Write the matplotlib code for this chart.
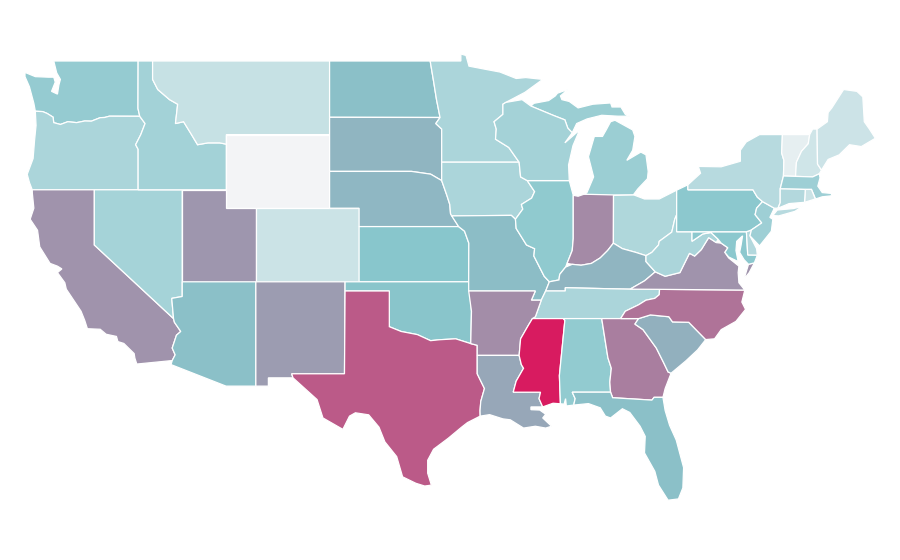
import matplotlib
matplotlib.use("Agg")
import matplotlib.pyplot as plt
from matplotlib.colors import LinearSegmentedColormap

# Estimated index per state (read from fill colours)
values = {
    "WA": 35.5, "OR": 27, "CA": 58, "NV": 29, "ID": 30, "MT": 17, "WY": 0, "UT": 57, "CO": 15,
    "AZ": 42, "NM": 55, "ND": 42, "SD": 46, "NE": 45, "KS": 40, "OK": 40.5, "TX": 78, "MN": 27,
    "IA": 27, "MO": 43, "AR": 60, "LA": 51, "WI": 29.5, "IL": 37, "MI": 33, "IN": 61, "OH": 25.5,
    "KY": 46, "TN": 27, "MS": 100, "AL": 36, "GA": 65, "FL": 42, "SC": 48, "NC": 69, "VA": 58,
    "WV": 27, "MD": 38.5, "DE": 24, "PA": 38.5, "NJ": 32, "NY": 22.5, "CT": 24, "RI": 15,
    "MA": 32, "VT": 5, "NH": 13.5, "ME": 14.5,
}

# State outlines in lon/lat; a state may have several parts
states = {
    "WA": [[(-124.7,48.38),(-124.0,48.15),(-123.1,48.12),(-122.75,48.12),(-122.65,47.85),(-122.9,47.35),(-122.5,47.2),(-122.4,47.7),(-122.3,48.0),(-122.55,48.35),(-122.75,49.0),(-117.03,49),(-117.04,46.42),(-116.92,45.995),(-118.98,46.0),(-119.3,45.93),(-119.6,45.92),(-120.2,45.73),(-120.65,45.74),(-121.2,45.65),(-121.8,45.7),(-122.3,45.55),(-122.75,45.65),(-122.8,45.95),(-123.2,46.15),(-123.5,46.25),(-124.0,46.27),(-124.1,46.7),(-124.2,47.0),(-124.4,47.6),(-124.7,48.15)]],
    "OR": [[(-124.0,46.27),(-123.5,46.25),(-123.2,46.15),(-122.8,45.95),(-122.75,45.65),(-122.3,45.55),(-121.8,45.7),(-121.2,45.65),(-120.65,45.74),(-120.2,45.73),(-119.6,45.92),(-119.3,45.93),(-118.98,46.0),(-116.92,45.995),(-116.56,45.6),(-116.85,45.0),(-117.2,44.45),(-117.03,44.2),(-117.03,42),(-124.21,42),(-124.4,42.4),(-124.55,42.84),(-124.15,43.7),(-124.05,44.7),(-123.95,45.5)]],
    "CA": [[(-124.21,42),(-120,42),(-120,39),(-114.63,35.0),(-114.57,34.8),(-114.14,34.3),(-114.43,34.1),(-114.72,33.4),(-114.52,33.03),(-114.72,32.72),(-117.12,32.53),(-117.25,32.85),(-117.3,33.1),(-118.0,33.65),(-118.4,33.75),(-118.5,34.03),(-119.2,34.15),(-119.6,34.42),(-120.47,34.45),(-120.65,34.9),(-120.9,35.4),(-121.9,36.6),(-122.0,36.95),(-122.5,37.5),(-122.2,37.7),(-122.5,37.85),(-123.0,38.0),(-123.7,38.9),(-123.85,39.8),(-124.35,40.4),(-124.1,41.0),(-124.2,41.8)]],
    "NV": [[(-120,42),(-114.04,42),(-114.04,36.2),(-114.75,36.1),(-114.63,35.0),(-120,39)]],
    "ID": [[(-117.03,49),(-116.05,49),(-116.05,48.0),(-115.7,47.45),(-114.9,46.9),(-114.35,46.65),(-114.5,45.6),(-113.95,45.7),(-113.45,45.05),(-113.0,44.45),(-112.3,44.55),(-111.5,44.55),(-111.05,44.48),(-111.05,42),(-117.03,42),(-117.03,44.2),(-117.2,44.45),(-116.85,45.0),(-116.56,45.6),(-116.92,45.995),(-117.04,46.42)]],
    "MT": [[(-116.05,49),(-104.05,49),(-104.05,45),(-111.05,45),(-111.05,44.48),(-111.5,44.55),(-112.3,44.55),(-113.0,44.45),(-113.45,45.05),(-113.95,45.7),(-114.5,45.6),(-114.35,46.65),(-114.9,46.9),(-115.7,47.45),(-116.05,48.0)]],
    "WY": [[(-111.05,45),(-104.05,45),(-104.05,41),(-111.05,41)]],
    "UT": [[(-114.04,42),(-111.05,42),(-111.05,41),(-109.05,41),(-109.05,37),(-114.04,37)]],
    "CO": [[(-109.05,41),(-102.05,41),(-102.05,37),(-109.05,37)]],
    "AZ": [[(-114.04,37),(-109.05,37),(-109.05,31.33),(-111.07,31.33),(-114.8,32.5),(-114.72,32.72),(-114.52,33.03),(-114.72,33.4),(-114.43,34.1),(-114.14,34.3),(-114.57,34.8),(-114.63,35.0),(-114.75,36.1),(-114.04,36.2)]],
    "NM": [[(-109.05,37),(-103,37),(-103.04,32),(-106.62,32),(-106.53,31.78),(-108.2,31.78),(-108.2,31.33),(-109.05,31.33)]],
    "ND": [[(-104.05,49),(-97.23,49),(-97.0,47.9),(-96.8,46.9),(-96.56,45.93),(-104.05,45.94)]],
    "SD": [[(-104.05,45.94),(-96.56,45.93),(-96.85,45.6),(-96.45,45.3),(-96.45,43.5),(-96.45,42.5),(-97.2,42.85),(-98.5,43.0),(-104.05,43.0)]],
    "NE": [[(-104.05,43),(-98.5,43),(-97.2,42.85),(-96.45,42.5),(-96.1,41.7),(-95.9,41.2),(-95.85,40.7),(-95.3,40.0),(-102.05,40),(-102.05,41),(-104.05,41)]],
    "KS": [[(-102.05,40),(-95.3,40),(-94.9,39.75),(-94.61,39.1),(-94.62,37),(-102.05,37)]],
    "OK": [[(-103,37),(-94.62,37),(-94.43,35.4),(-94.48,33.64),(-95.5,33.9),(-96.6,33.85),(-97.2,33.8),(-98.1,34.13),(-99.2,34.3),(-100,34.56),(-100,36.5),(-103,36.5)]],
    "TX": [[(-103,36.5),(-100,36.5),(-100,34.56),(-99.2,34.3),(-98.1,34.13),(-97.2,33.8),(-96.6,33.85),(-95.5,33.9),(-94.48,33.64),(-94.04,33.55),(-94.04,33.0),(-94.04,32),(-93.55,31.2),(-93.8,30.5),(-93.85,30.0),(-93.84,29.7),(-94.7,29.35),(-95.1,29.1),(-96.0,28.5),(-97.0,27.9),(-97.4,27.3),(-97.4,26.6),(-97.15,25.95),(-97.6,25.9),(-98.2,26.05),(-99.1,26.4),(-99.5,27.5),(-100.3,28.3),(-100.7,29.1),(-101.4,29.77),(-102.3,29.88),(-102.7,29.7),(-103.15,28.98),(-104.5,29.6),(-104.9,30.6),(-106.53,31.78),(-106.62,32),(-103.04,32)]],
    "MN": [[(-97.23,49),(-95.15,49),(-95.15,49.38),(-94.8,49.3),(-94.6,48.72),(-93.5,48.55),(-92.5,48.4),(-91.4,48.05),(-90.75,48.1),(-89.6,48.0),(-90.8,47.3),(-92.1,46.75),(-92.3,46.65),(-92.3,46.1),(-92.9,45.7),(-92.75,45.3),(-92.8,44.75),(-91.9,44.3),(-91.2,43.5),(-96.45,43.5),(-96.45,45.3),(-96.85,45.6),(-96.56,45.93),(-96.8,46.9),(-97.0,47.9)]],
    "IA": [[(-96.45,43.5),(-91.2,43.5),(-91.1,42.7),(-90.65,42.5),(-90.15,41.9),(-90.35,41.55),(-91.05,41.2),(-90.95,40.95),(-91.45,40.4),(-91.73,40.61),(-95.77,40.58),(-95.85,40.7),(-95.9,41.2),(-96.1,41.7),(-96.45,42.5)]],
    "MO": [[(-95.77,40.58),(-91.73,40.61),(-91.45,40.4),(-91.4,39.9),(-90.7,39.0),(-90.15,38.8),(-90.2,38.4),(-89.5,37.3),(-89.15,37.0),(-89.4,36.5),(-89.7,36.0),(-90.37,36.0),(-90.1,36.5),(-94.62,36.5),(-94.62,37),(-94.61,39.1),(-94.9,39.75),(-95.3,40)]],
    "IL": [[(-90.65,42.5),(-87.8,42.5),(-87.53,41.7),(-87.53,39.35),(-87.6,38.7),(-87.95,38.0),(-88.05,37.8),(-88.45,37.4),(-88.5,37.1),(-89.15,37.0),(-89.5,37.3),(-90.2,38.4),(-90.15,38.8),(-90.7,39.0),(-91.4,39.9),(-91.45,40.4),(-90.95,40.95),(-91.05,41.2),(-90.35,41.55),(-90.15,41.9)]],
    "IN": [[(-87.53,41.7),(-87.2,41.65),(-86.8,41.76),(-84.8,41.76),(-84.81,39.1),(-85.2,38.7),(-85.7,38.3),(-86.3,38.0),(-87.0,37.9),(-87.6,37.95),(-87.95,38.0),(-87.6,38.7),(-87.53,39.35)]],
    "OH": [[(-84.8,41.7),(-83.45,41.73),(-82.7,41.5),(-81.7,41.5),(-80.52,41.98),(-80.52,40.64),(-80.65,40.4),(-80.85,39.7),(-81.7,39.2),(-81.75,39.0),(-82.2,38.6),(-82.6,38.42),(-83.3,38.6),(-84.2,38.8),(-84.81,39.1)]],
    "MI": [[(-86.8,41.76),(-84.8,41.72),(-83.45,41.73),(-83.15,42.05),(-82.5,42.6),(-82.45,43.0),(-82.6,43.9),(-82.95,44.05),(-83.9,43.6),(-83.5,44.15),(-83.35,44.9),(-83.5,45.25),(-84.7,45.78),(-85.0,45.7),(-85.3,45.25),(-85.55,44.9),(-86.1,44.9),(-86.5,43.8),(-86.15,42.7),(-86.6,41.85)],
           [(-90.4,46.55),(-90.2,46.7),(-89.2,46.85),(-88.75,47.1),(-88.6,47.25),(-87.9,47.45),(-88.4,47.1),(-88.3,46.9),(-87.8,46.8),(-87.2,46.45),(-86.2,46.65),(-85.0,46.72),(-84.9,46.5),(-84.3,46.5),(-84.0,46.1),(-83.7,46.0),(-84.5,46.0),(-85.6,46.05),(-86.6,45.85),(-87.3,45.6),(-87.6,45.1),(-87.9,45.35),(-88.1,45.8),(-88.9,46.05)]],
    "WI": [[(-92.1,46.75),(-91.0,46.9),(-90.4,46.55),(-88.9,46.05),(-88.1,45.8),(-87.9,45.35),(-87.6,45.1),(-88.1,44.55),(-87.1,45.25),(-87.55,44.4),(-87.85,43.35),(-87.8,42.5),(-90.65,42.5),(-91.1,42.7),(-91.2,43.5),(-91.9,44.3),(-92.8,44.75),(-92.75,45.3),(-92.9,45.7),(-92.3,46.1),(-92.3,46.65)]],
    "KY": [[(-89.4,36.5),(-89.15,37.0),(-88.5,37.1),(-88.45,37.4),(-88.05,37.8),(-87.6,37.95),(-87.0,37.9),(-86.3,38.0),(-85.7,38.3),(-85.2,38.7),(-84.81,39.1),(-84.2,38.8),(-83.3,38.6),(-82.6,38.42),(-82.6,38.1),(-81.97,37.54),(-82.7,37.05),(-83.68,36.6),(-85,36.62),(-88.07,36.68),(-88.07,36.5)]],
    "TN": [[(-89.4,36.5),(-88.07,36.5),(-88.07,36.68),(-85,36.62),(-83.68,36.6),(-81.68,36.59),(-81.7,36.3),(-82.0,36.1),(-82.6,36.0),(-83.1,35.75),(-84.0,35.4),(-84.32,35.0),(-90.3,35.0),(-90.1,35.1),(-89.7,36.0)]],
    "AR": [[(-94.62,36.5),(-90.1,36.5),(-90.37,36.0),(-89.7,36.0),(-90.1,35.1),(-90.3,35.0),(-90.6,34.6),(-91.1,33.9),(-91.2,33.0),(-94.04,33.0),(-94.04,33.55),(-94.48,33.64),(-94.43,35.4)]],
    "LA": [[(-94.04,33),(-91.2,33),(-91.05,32.5),(-90.9,32.3),(-91.4,31.6),(-91.6,31.0),(-89.75,31.0),(-89.85,30.65),(-89.6,30.2),(-90.4,30.2),(-90.4,30.05),(-89.8,30.03),(-89.4,29.8),(-89.6,29.6),(-89.0,29.15),(-89.4,29.05),(-90.1,29.15),(-90.9,29.05),(-91.8,29.5),(-92.3,29.55),(-93.2,29.78),(-93.84,29.7),(-93.85,30.0),(-93.8,30.5),(-93.55,31.2),(-94.04,32)]],
    "MS": [[(-90.3,35.0),(-88.2,35.0),(-88.1,34.9),(-88.47,31.9),(-88.4,30.37),(-88.9,30.4),(-89.6,30.2),(-89.85,30.65),(-89.75,31),(-91.6,31),(-91.4,31.6),(-90.9,32.3),(-91.05,32.5),(-91.2,33),(-91.1,33.9),(-90.6,34.6)]],
    "AL": [[(-88.2,35),(-85.6,35),(-85.18,32.87),(-84.95,32.3),(-85.05,31.55),(-85.0,31.0),(-87.6,31.0),(-87.4,30.65),(-87.5,30.3),(-88.0,30.25),(-88.05,30.65),(-88.15,30.35),(-88.4,30.37),(-88.47,31.9),(-88.1,34.9)]],
    "GA": [[(-85.6,35),(-83.1,35),(-83.35,34.7),(-82.8,34.4),(-81.9,33.4),(-81.4,32.6),(-81.1,32.1),(-80.9,32.03),(-81.3,31.2),(-81.45,30.72),(-82.05,30.72),(-82.2,30.57),(-84.86,30.7),(-85.0,31.0),(-85.05,31.55),(-84.95,32.3),(-85.18,32.87)]],
    "FL": [[(-87.6,31.0),(-85.0,31.0),(-84.86,30.7),(-82.2,30.57),(-82.05,30.72),(-81.45,30.72),(-81.3,30.0),(-81.0,29.2),(-80.55,28.4),(-80.05,26.9),(-80.1,25.8),(-80.4,25.2),(-81.1,25.13),(-81.75,25.95),(-82.0,26.7),(-82.7,27.7),(-82.65,28.6),(-83.0,29.15),(-83.7,29.9),(-84.2,30.1),(-85.0,29.6),(-85.35,29.7),(-85.7,30.15),(-86.5,30.38),(-87.5,30.3),(-87.4,30.65)]],
    "SC": [[(-83.1,35),(-82.3,35.2),(-81.05,35.1),(-80.8,34.82),(-79.7,34.8),(-78.55,33.86),(-79.1,33.3),(-79.9,32.7),(-80.9,32.03),(-81.1,32.1),(-81.4,32.6),(-81.9,33.4),(-82.8,34.4),(-83.35,34.7)]],
    "NC": [[(-84.32,35),(-84.0,35.4),(-83.1,35.75),(-82.6,36),(-82,36.1),(-81.7,36.3),(-81.68,36.59),(-75.9,36.55),(-76.1,35.9),(-75.85,35.5),(-76.5,34.85),(-77.5,34.4),(-77.95,33.9),(-78.55,33.86),(-79.7,34.8),(-80.8,34.82),(-81.05,35.1),(-82.3,35.2),(-83.1,35)]],
    "VA": [[(-83.68,36.6),(-81.68,36.59),(-75.9,36.55),(-76.3,36.95),(-76.35,37.5),(-76.3,37.85),(-77.0,38.3),(-77.25,38.6),(-77.05,38.85),(-77.5,39.1),(-77.83,39.13),(-78.35,39.4),(-78.85,38.75),(-79.3,38.4),(-79.65,38.55),(-80.3,37.5),(-81.3,37.3),(-81.97,37.54),(-82.7,37.05)],
           [(-75.95,37.15),(-75.65,37.95),(-75.25,38.03),(-75.6,37.5)]],
    "WV": [[(-82.6,38.42),(-82.6,38.1),(-81.97,37.54),(-81.3,37.3),(-80.3,37.5),(-79.65,38.55),(-79.3,38.4),(-78.85,38.75),(-78.35,39.4),(-77.83,39.13),(-77.72,39.32),(-78.2,39.68),(-78.75,39.6),(-79.48,39.2),(-79.48,39.72),(-80.52,39.72),(-80.52,40.64),(-80.65,40.4),(-80.85,39.7),(-81.7,39.2),(-81.75,39.0),(-82.2,38.6)]],
    "MD": [[(-79.48,39.72),(-75.79,39.72),(-75.7,38.46),(-75.05,38.45),(-75.25,38.03),(-75.65,37.95),(-75.95,38.2),(-76.25,38.6),(-76.15,39.0),(-76.05,39.5),(-76.45,39.2),(-76.5,38.7),(-76.35,38.1),(-77.0,38.35),(-77.25,38.6),(-77.05,38.85),(-77.5,39.1),(-77.72,39.32),(-78.2,39.68),(-78.75,39.6),(-79.48,39.2)]],
    "DE": [[(-75.79,39.72),(-75.45,39.82),(-75.55,39.5),(-75.1,38.8),(-75.05,38.45),(-75.7,38.46)]],
    "PA": [[(-80.52,41.98),(-79.76,42.27),(-79.76,42.0),(-75.35,42.0),(-75.05,41.6),(-74.7,41.36),(-75.1,41.0),(-75.2,40.65),(-74.75,40.2),(-75.45,39.82),(-75.79,39.72),(-80.52,39.72)]],
    "NJ": [[(-74.7,41.36),(-73.9,41.0),(-74.2,40.5),(-74.0,40.4),(-74.1,39.75),(-74.9,38.95),(-75.55,39.5),(-75.45,39.82),(-74.75,40.2),(-75.2,40.65),(-75.1,41.0)]],
    "NY": [[(-79.76,42.27),(-78.9,42.9),(-79.05,43.27),(-77.5,43.25),(-76.2,43.55),(-76.2,44.15),(-75.8,44.6),(-74.9,45.0),(-73.35,45.0),(-73.4,44.0),(-73.25,43.6),(-73.28,42.75),(-73.5,42.05),(-73.5,41.3),(-73.65,41.0),(-73.9,41.0),(-74.7,41.36),(-75.05,41.6),(-75.35,42),(-79.76,42)],
           [(-74.0,40.6),(-73.7,40.9),(-72.6,40.98),(-72.0,41.1),(-72.5,40.83),(-73.6,40.58)]],
    "VT": [[(-73.35,45),(-71.5,45.0),(-71.6,44.5),(-72.05,44.1),(-72.4,43.5),(-72.46,42.73),(-73.28,42.75),(-73.25,43.6),(-73.4,44.0)]],
    "NH": [[(-71.5,45.0),(-71.3,45.3),(-71.0,45.3),(-70.97,43.4),(-70.7,43.07),(-70.85,42.87),(-71.3,42.7),(-72.46,42.73),(-72.4,43.5),(-72.05,44.1),(-71.6,44.5)]],
    "ME": [[(-71.0,45.3),(-70.3,45.7),(-70.25,46.2),(-70.0,46.45),(-69.2,47.45),(-68.3,47.35),(-67.9,47.05),(-67.8,45.7),(-67.45,45.3),(-67.05,44.8),(-68.0,44.35),(-68.8,44.45),(-69.5,43.9),(-70.25,43.65),(-70.7,43.07),(-70.97,43.4)]],
    "MA": [[(-73.5,42.05),(-73.28,42.75),(-71.3,42.7),(-70.85,42.87),(-70.8,42.65),(-70.95,42.2),(-70.65,41.85),(-70.0,41.8),(-70.05,41.67),(-70.65,41.62),(-71.1,41.5),(-71.38,42.02),(-71.8,42.02)]],
    "RI": [[(-71.8,42.02),(-71.38,42.02),(-71.12,41.5),(-71.85,41.32)]],
    "CT": [[(-73.5,42.05),(-71.8,42.02),(-71.85,41.32),(-72.9,41.25),(-73.65,41.0),(-73.5,41.3)]],
}

cmap = LinearSegmentedColormap.from_list(
    "teal_pink", [(0.0, "#f3f4f6"), (0.4, "#88c6cc"), (1.0, "#d81b60")]
)

fig = plt.figure(figsize=(9, 5.6), dpi=100)
ax = fig.add_axes([0, 0, 1, 1])
for code, parts in states.items():
    for part in parts:
        lon, lat = zip(*part)
        ax.fill(lon, lat, facecolor=cmap(values[code] / 100), edgecolor="white", linewidth=0.9)
ax.set_xlim(-126.395, -65.378)
ax.set_ylim(21.88, 52.315)
ax.axis("off")
fig.savefig("out.png", dpi=100, facecolor="white")
